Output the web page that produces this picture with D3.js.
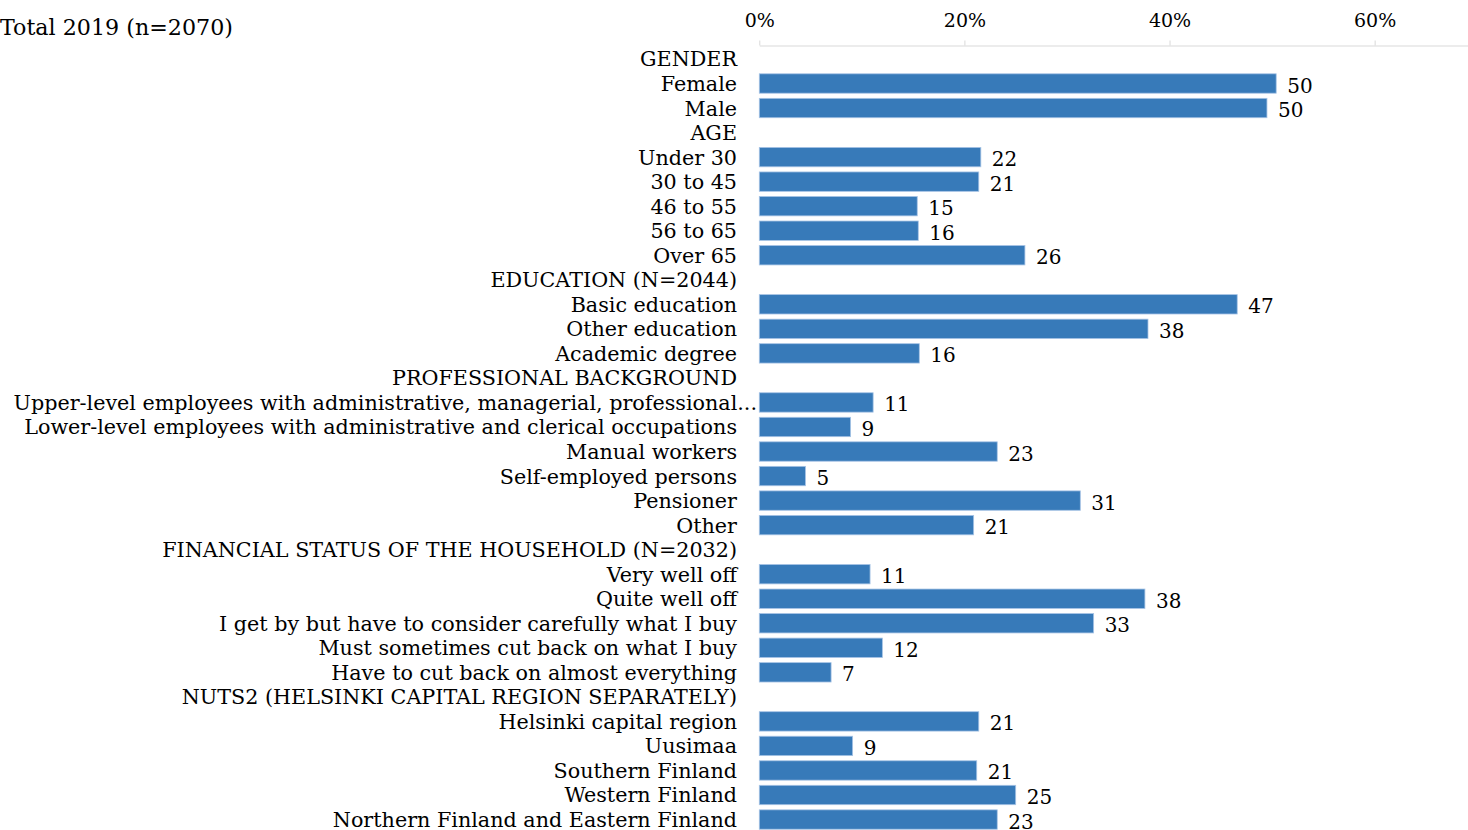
<!DOCTYPE html>
<html>
<head>
<meta charset="utf-8">
<script src="https://cdn.jsdelivr.net/npm/d3@7"></script>
<style>
  html, body { margin: 0; padding: 0; background: #ffffff; }
  svg { display: block; }
  text { font-family: "DejaVu Serif", "Liberation Serif", serif; fill: #000; }
</style>
</head>
<body>
<svg id="chart" width="1468" height="830"></svg>
<script>
// Row labels, top to bottom; section headings have no value.
const rowLabels = [
  "GENDER", "Female", "Male",
  "AGE", "Under 30", "30 to 45", "46 to 55", "56 to 65", "Over 65",
  "EDUCATION (N=2044)", "Basic education", "Other education", "Academic degree",
  "PROFESSIONAL BACKGROUND",
  "Upper-level employees with administrative, managerial, professional...",
  "Lower-level employees with administrative and clerical occupations",
  "Manual workers", "Self-employed persons", "Pensioner", "Other",
  "FINANCIAL STATUS OF THE HOUSEHOLD (N=2032)",
  "Very well off", "Quite well off", "I get by but have to consider carefully what I buy",
  "Must sometimes cut back on what I buy", "Have to cut back on almost everything",
  "NUTS2 (HELSINKI CAPITAL REGION SEPARATELY)",
  "Helsinki capital region", "Uusimaa", "Southern Finland", "Western Finland",
  "Northern Finland and Eastern Finland"
];

// Share of respondents (%), null for heading rows.
const rowValues = [
  null, 50.4, 49.5,
  null, 21.6, 21.4, 15.4, 15.5, 25.9,
  null, 46.6, 37.9, 15.6,
  null, 11.1, 8.9, 23.2, 4.5, 31.3, 20.9,
  null, 10.8, 37.6, 32.6, 12.0, 7.0,
  null, 21.4, 9.1, 21.2, 25.0, 23.2
];

const axisTicks = [0, 20, 40, 60];
const chartTitle = "Total 2019 (n=2070)";

const svg = d3.select("#chart");

const x = d3.scaleLinear().domain([0, 70]).range([759.3, 1477.2]);
const y = d3.scaleBand()
  .domain(d3.range(rowLabels.length))
  .range([46.7, 831.8])
  .paddingInner(0.21)
  .paddingOuter(0.105);

const rows = rowLabels.map((label, i) => ({ i, label, value: rowValues[i] }));

// Title
svg.append("text")
  .attr("x", 0)
  .attr("y", 35)
  .attr("font-size", 22.2)
  .text(chartTitle);

// Top axis
const axis = d3.axisTop(x)
  .tickValues(axisTicks)
  .tickFormat(d => d + "%")
  .tickSize(5)
  .tickSizeOuter(0)
  .tickPadding(14);

const gAxis = svg.append("g")
  .attr("transform", "translate(0,45.5)")
  .call(axis);
gAxis.select(".domain").attr("stroke", "#d9d9d9");
gAxis.selectAll(".tick line").attr("stroke", "#d9d9d9");
gAxis.selectAll(".tick text")
  .attr("font-family", "DejaVu Serif, serif")
  .attr("font-size", 19)
  .attr("fill", "#000");

// Category labels
svg.append("g")
  .selectAll("text")
  .data(rows)
  .join("text")
  .attr("x", d => d.label.endsWith("...") ? 757 : 737)
  .attr("y", d => y(d.i) + y.bandwidth() / 2 + 7.5)
  .attr("text-anchor", "end")
  .attr("font-size", 20.7)
  .text(d => d.label);

const valued = rows.filter(d => d.value != null);

// Bars
svg.append("g")
  .selectAll("rect")
  .data(valued)
  .join("rect")
  .attr("x", x(0))
  .attr("y", d => y(d.i))
  .attr("width", d => x(d.value) - x(0))
  .attr("height", y.bandwidth())
  .attr("fill", "#377ab9")
  .attr("stroke", "#a6c3e5")
  .attr("stroke-width", 0.8);

// Value labels
const fmt = d3.format(".0f");
svg.append("g")
  .selectAll("text")
  .data(valued)
  .join("text")
  .attr("x", d => x(d.value) + 11)
  .attr("y", d => y(d.i) + y.bandwidth() / 2 + 9)
  .attr("font-size", 20)
  .text(d => fmt(d.value));
</script>
</body>
</html>
